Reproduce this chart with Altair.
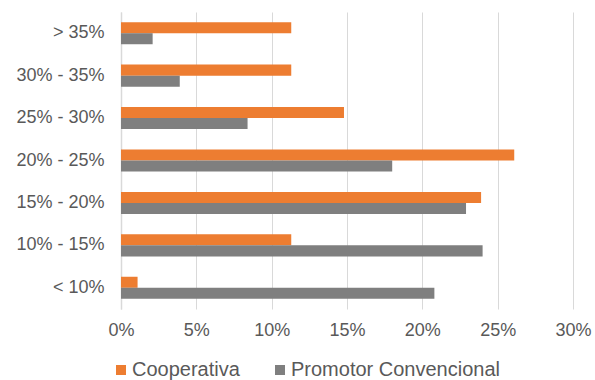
import altair as alt
import pandas as pd

categories = ["> 35%", "30% - 35%", "25% - 30%", "20% - 25%", "15% - 20%", "10% - 15%", "< 10%"]
cooperativa = [11.3, 11.3, 14.8, 26.1, 23.9, 11.3, 1.1]
promotor = [2.1, 3.9, 8.4, 18.0, 22.9, 24.0, 20.8]
series = ["Cooperativa", "Promotor Convencional"]
colors = ["#ED7D31", "#7F7F7F"]

rows = []
for c, a, b in zip(categories, cooperativa, promotor):
    rows.append({"cat": c, "serie": series[0], "val": a / 100})
    rows.append({"cat": c, "serie": series[1], "val": b / 100})
df = pd.DataFrame(rows)

font = "Liberation Sans"

chart = alt.Chart(df).mark_bar().encode(
    y=alt.Y("cat:N", sort=categories, title=None,
            scale=alt.Scale(paddingInner=0.48, paddingOuter=0.24),
            axis=alt.Axis(labelFontSize=18, labelColor="#595959", labelFont=font,
                          ticks=False, domain=True, domainColor="#d9d9d9", domainWidth=1.5,
                          labelPadding=17, grid=False, labelLimit=0)),
    yOffset=alt.YOffset("serie:N", sort=series, scale=alt.Scale(paddingInner=0, paddingOuter=0)),
    x=alt.X("val:Q", title=None,
            scale=alt.Scale(domain=[0, 0.3], nice=False),
            axis=alt.Axis(format=".0%", values=[0, 0.05, 0.1, 0.15, 0.2, 0.25, 0.3],
                          labelFontSize=18, labelColor="#595959", labelFont=font,
                          ticks=False, domain=False, grid=True, gridColor="#d9d9d9",
                          labelPadding=12, labelFlush=False)),
    color=alt.Color("serie:N", sort=series, title=None,
                    scale=alt.Scale(domain=series, range=colors),
                    legend=alt.Legend(orient="none", direction="horizontal",
                                      legendX=-10, legendY=348,
                                      symbolType="square", symbolSize=100,
                                      symbolStrokeWidth=0,
                                      labelFontSize=20, labelColor="#595959", labelFont=font,
                                      labelLimit=0,
                                      columnPadding=30, labelOffset=1)),
).properties(
    width=452, height=297,
    autosize=alt.AutoSizeParams(type="none"),
    padding={"left": 121, "top": 12, "right": 22, "bottom": 71},
).configure_view(stroke=None)

chart.save("out.html", embed_options={"renderer": "svg", "actions": False})
